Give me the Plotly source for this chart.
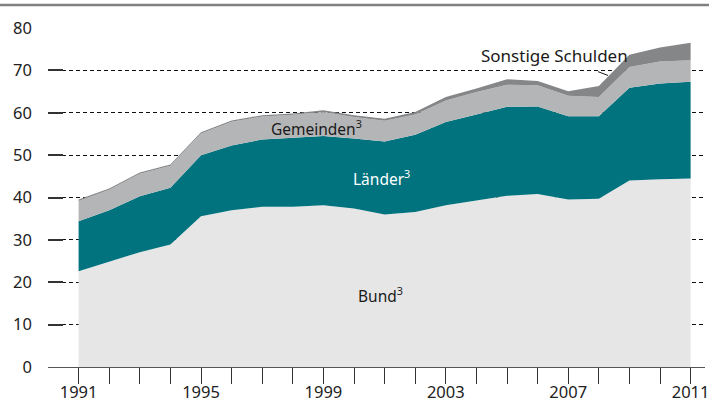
import plotly.graph_objects as go

years = list(range(1991, 2012))
bund = [22.6, 24.8, 27.1, 28.9, 35.6, 37.0, 37.8, 37.8, 38.2, 37.4, 36.0,
        36.6, 38.2, 39.3, 40.4, 40.8, 39.5, 39.7, 44.0, 44.3, 44.5]
laender = [11.8, 12.2, 13.2, 13.4, 14.4, 15.3, 15.9, 16.3, 16.3, 16.5, 17.2,
           18.2, 19.6, 20.3, 21.0, 20.7, 19.7, 19.5, 21.9, 22.6, 22.8]
gemeinden = [4.8, 4.8, 5.3, 5.2, 5.1, 5.6, 5.4, 5.4, 5.7, 5.1, 4.9,
             4.8, 5.1, 5.3, 5.2, 5.0, 4.8, 4.5, 4.9, 5.2, 5.1]
sonstige = [0.3, 0.3, 0.3, 0.3, 0.3, 0.3, 0.3, 0.3, 0.4, 0.4, 0.5,
            0.6, 0.8, 0.8, 1.3, 1.0, 1.1, 2.6, 2.9, 3.3, 4.1]
y_ticks = [0, 10, 20, 30, 40, 50, 60, 70, 80]
x_labels = {1991: "1991", 1995: "1995", 1999: "1999", 2003: "2003", 2007: "2007", 2011: "2011"}

FONT = "Noto Sans"
series = [
    ("Bund", bund, "#e6e6e6"),
    ("Länder", laender, "#00737f"),
    ("Gemeinden", gemeinden, "#b4b5b7"),
    ("Sonstige Schulden", sonstige, "#858688"),
]

fig = go.Figure()
for name, vals, col in series:
    fig.add_trace(go.Scatter(
        x=years, y=vals, name=name, mode="lines", stackgroup="one",
        line=dict(width=0, color=col), fillcolor=col, hoverinfo="skip",
    ))

fig.add_annotation(x=2000.85, y=16.9, text="Bund<sup>3</sup>", showarrow=False,
                   font=dict(family=FONT, size=15.5, color="#1a1a1a"))
fig.add_annotation(x=2000.9, y=44.6, text="Länder<sup>3</sup>", showarrow=False,
                   font=dict(family=FONT, size=15.5, color="#ffffff"))
fig.add_annotation(x=1998.78, y=56.5, text="Gemeinden<sup>3</sup>", showarrow=False,
                   font=dict(family=FONT, size=15.5, color="#1a1a1a"))
fig.add_annotation(x=2008.3, y=68.8, ax=2006.55, ay=73.6, axref="x", ayref="y",
                   text="Sonstige Schulden", showarrow=True, arrowhead=0,
                   arrowwidth=1, arrowcolor="#1a1a1a", standoff=0, startstandoff=10,
                   font=dict(family=FONT, size=17, color="#1a1a1a"))

fig.add_shape(type="line", xref="paper", yref="paper", x0=-0.1, x1=1.1,
              y0=1.068, y1=1.068, line=dict(color="#808080", width=2.5))

fig.update_layout(
    width=709, height=401, showlegend=False,
    margin=dict(l=48, r=4, t=28, b=34, autoexpand=False),
    plot_bgcolor="white", paper_bgcolor="white",
    font=dict(family=FONT, size=16.5, color="#222222"),
    xaxis=dict(
        range=[1990, 2011.47], tickmode="array", tickvals=years,
        ticktext=[x_labels.get(y, "") for y in years],
        ticks="outside", ticklen=16, tickcolor="#333333", tickwidth=1,
        showgrid=False, showline=True, linecolor="#555555", linewidth=1,
        zeroline=False, tickfont=dict(size=16.5), automargin=False,
        ticklabelstandoff=-6, ticklabeloverflow="allow",
    ),
    yaxis=dict(
        range=[0, 80], tickmode="array", tickvals=y_ticks,
        ticks="inside", ticklen=15, tickcolor="#333333", tickwidth=1.5,
        showgrid=True, gridcolor="#111111", gridwidth=1, griddash="4px,3px",
        zeroline=False, showline=False, ticklabelstandoff=15,
        tickfont=dict(size=16.5), automargin=False,
    ),
)

fig.write_html("out.html", config={"displayModeBar": False},
               post_script="document.body.style.margin='0';document.body.style.overflow='hidden';")
